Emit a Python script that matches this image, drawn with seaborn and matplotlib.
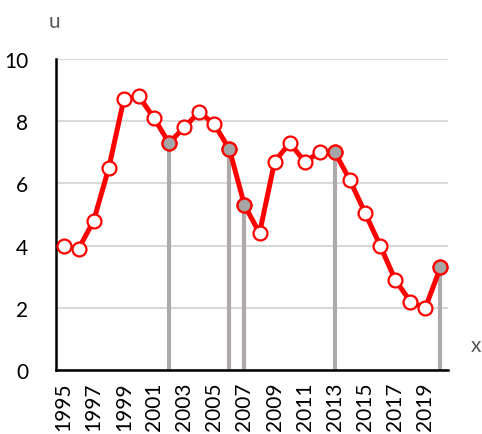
import numpy as np
import pandas as pd
import matplotlib
matplotlib.use("Agg")
import matplotlib.pyplot as plt
import seaborn as sns

# values
years = list(range(1995, 2021))
values = [4.0, 3.9, 4.8, 6.5, 8.7, 8.8, 8.1, 7.3, 7.8, 8.3, 7.9, 7.1, 5.3, 4.4,
          6.7, 7.3, 6.7, 7.0, 7.0, 6.1, 5.05, 4.0, 2.9, 2.2, 2.0, 3.3]
highlight_years = [2002, 2006, 2007, 2013, 2020]
y_ticks = [0, 2, 4, 6, 8, 10]
x_ticks = list(range(1995, 2021, 2))

df = pd.DataFrame({"x": years, "u": values})
hl = df[df["x"].isin(highlight_years)]

sns.set_style("white")
plt.rcParams["font.family"] = ["Lato", "DejaVu Sans"]

fig = plt.figure(figsize=(4.82, 4.35), dpi=100)
ax = fig.add_axes([56 / 482, 1 - 371 / 435, 392 / 482, 311 / 435])

# grey stems below the highlighted points
ax.vlines(hl["x"], 0, hl["u"], color="#AEAAAA", linewidth=3, zorder=1)

sns.lineplot(data=df, x="x", y="u", ax=ax, color="#FF0000", linewidth=3.6,
             marker="o", markersize=10, markerfacecolor="white",
             markeredgecolor="#FF0000", markeredgewidth=1.6, zorder=3)
ax.plot(hl["x"], hl["u"], "o", markersize=10, markerfacecolor="#A5A5A5",
        markeredgecolor="#FF0000", markeredgewidth=1.6, zorder=4)

ax.set_xlim(1994.5, 2020.5)
ax.set_ylim(0, 10)
ax.set_yticks(y_ticks)
ax.set_xticks(x_ticks)
ax.set_xticklabels([str(t) for t in x_ticks], rotation=90)
ax.tick_params(axis="both", labelsize=15, length=0, colors="black")
ax.tick_params(axis="y", pad=20)
ax.tick_params(axis="x", pad=8)
ax.grid(axis="y", color="#D9D9D9", linewidth=1.5, zorder=0)
ax.set_axisbelow(True)
for s in ["top", "right"]:
    ax.spines[s].set_visible(False)
for s in ["left", "bottom"]:
    ax.spines[s].set_color("black")
    ax.spines[s].set_linewidth(1.8)
ax.set_xlabel("")
ax.set_ylabel("")

fig.text(54 / 482, 1 - 22 / 435, "u", fontsize=15, color="#595959",
         ha="center", va="center")
fig.text(476 / 482, 1 - 346 / 435, "x", fontsize=15, color="#595959",
         ha="center", va="center")

fig.savefig("out.png", dpi=100)
